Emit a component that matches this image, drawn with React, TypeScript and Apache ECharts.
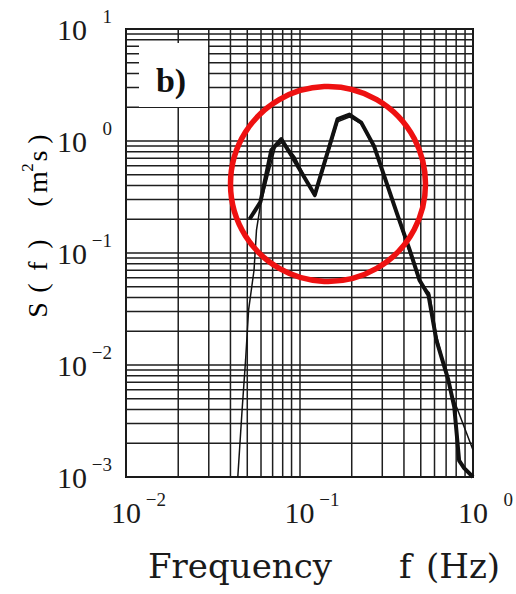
import { useEffect, useRef } from "react";
import * as echarts from "echarts";

// Spectrum S(f) in m^2 s against frequency f in Hz (log-log)
const thickCurve: [number, number][] = [
  [0.0515, 0.2],
  [0.0595, 0.285],
  [0.0688, 0.83],
  [0.0785, 1.04],
  [0.0895, 0.75],
  [0.1225, 0.33],
  [0.1657, 1.57],
  [0.194, 1.72],
  [0.227, 1.46],
  [0.269, 0.9],
  [0.364, 0.227],
  [0.432, 0.106],
  [0.492, 0.057],
  [0.554, 0.042],
  [0.615, 0.0167],
  [0.72, 0.0074],
  [0.78, 0.0042],
  [0.832, 0.0014],
  [0.889, 0.0012],
  [1.0, 0.001],
];

const thinCurve: [number, number][] = [
  [0.0441, 0.001],
  [0.0467, 0.004],
  [0.0489, 0.0111],
  [0.0509, 0.031],
  [0.0547, 0.0705],
  [0.0565, 0.16],
  [0.0595, 0.268],
  [0.0725, 0.88],
  [0.0805, 0.98],
  [0.0942, 0.72],
  [0.1225, 0.316],
  [0.1657, 1.48],
  [0.194, 1.64],
  [0.227, 1.42],
  [0.273, 0.83],
  [0.364, 0.218],
  [0.492, 0.055],
  [0.561, 0.044],
  [0.615, 0.0185],
  [0.75, 0.0056],
  [1.0, 0.00174],
];

// Log-paper minor lines: 2..9 within each decade
const minorMultipliers = [2, 3, 4, 5, 6, 7, 8, 9];
const xDecades = [0.01, 0.1];
const yDecades = [0.001, 0.01, 0.1, 1];

const xRange = [0.01, 1];
const yRange = [0.001, 10];

const exponentText = (v: number) => {
  const e = Math.round(Math.log10(v));
  return e < 0 ? "\u2212" + -e : String(e);
};

const tickRich = {
  b: {
    fontFamily: "Liberation Serif",
    fontSize: 30,
    lineHeight: 44,
    color: "#1a1a1a",
  },
  e: {
    fontFamily: "Liberation Serif",
    fontSize: 19,
    lineHeight: 18,
    verticalAlign: "top",
    align: "right",
    width: 25,
    color: "#1a1a1a",
  },
  sp: {
    fontSize: 19,
    width: 25,
    lineHeight: 18,
  },
};

const gridColor = "#1e1e1e";
const gridWidth = 1.5;

export default function App() {
  const ref = useRef<HTMLDivElement>(null);

  useEffect(() => {
    if (!ref.current) return;
    const chart = echarts.init(ref.current, undefined, { renderer: "svg" });

    // [x, y, kind]: kind 0 = vertical line at x, kind 1 = horizontal line at y
    const minorLines: [number, number, number][] = [
      ...xDecades.flatMap((d) =>
        minorMultipliers.map((k) => [k * d, 1, 0] as [number, number, number])
      ),
      ...yDecades.flatMap((d) =>
        minorMultipliers.map((k) => [0.1, k * d, 1] as [number, number, number])
      ),
    ];

    const cellStyle = {
      fontFamily: "Liberation Serif",
      fontSize: 28,
      lineHeight: 36,
      align: "center",
      color: "#1a1a1a",
    };

    chart.setOption({
      animation: false,
      backgroundColor: "#ffffff",
      grid: {
        left: 126,
        right: 39,
        top: 29,
        bottom: 117,
        show: true,
        borderColor: "#111",
        borderWidth: 2,
        backgroundColor: "transparent",
      },
      xAxis: {
        type: "log",
        logBase: 10,
        min: xRange[0],
        max: xRange[1],
        axisLine: { show: false },
        axisTick: { show: false },
        splitLine: { show: true, lineStyle: { color: gridColor, width: gridWidth } },
        axisLabel: {
          margin: 13,
          formatter: (v: number) => `{sp| }{b|10}{e|${exponentText(v)}}`,
          rich: tickRich,
          showMinLabel: true,
          showMaxLabel: true,
        },
      },
      yAxis: {
        type: "log",
        logBase: 10,
        min: yRange[0],
        max: yRange[1],
        axisLine: { show: false },
        axisTick: { show: false },
        splitLine: { show: true, lineStyle: { color: gridColor, width: gridWidth } },
        axisLabel: {
          margin: 14,
          formatter: (v: number) => `{b|10}{e|${exponentText(v)}}`,
          rich: tickRich,
          showMinLabel: true,
          showMaxLabel: true,
        },
      },
      series: [
        {
          name: "minor grid",
          type: "custom",
          data: minorLines,
          z: 1,
          silent: true,
          clip: true,
          encode: { x: 0, y: 1 },
          renderItem: (_params: any, api: any) => {
            const kind = api.value(2);
            let p1: number[];
            let p2: number[];
            if (kind === 0) {
              const x = api.value(0);
              p1 = api.coord([x, yRange[0]]);
              p2 = api.coord([x, yRange[1]]);
            } else {
              const y = api.value(1);
              p1 = api.coord([xRange[0], y]);
              p2 = api.coord([xRange[1], y]);
            }
            return {
              type: "line",
              shape: { x1: p1[0], y1: p1[1], x2: p2[0], y2: p2[1] },
              style: { stroke: gridColor, lineWidth: gridWidth },
            };
          },
        },
        {
          name: "thin",
          type: "line",
          data: thinCurve,
          z: 3,
          showSymbol: false,
          symbol: "none",
          lineStyle: { color: "#111", width: 1.5 },
        },
        {
          name: "thick",
          type: "line",
          data: thickCurve,
          z: 4,
          showSymbol: false,
          symbol: "none",
          lineStyle: { color: "#111", width: 4, join: "round" },
        },
      ],
      graphic: [
        {
          type: "rect",
          shape: { x: 139, y: 43, width: 69, height: 64 },
          style: { fill: "#ffffff" },
          z: 50,
        },
        {
          type: "text",
          x: 171,
          y: 80,
          z: 51,
          style: {
            text: "b)",
            font: "bold 34px 'Liberation Serif'",
            fill: "#111",
            align: "center",
            verticalAlign: "middle",
          },
        },
        {
          type: "circle",
          shape: { cx: 328, cy: 184, r: 97.5 },
          style: { fill: "none", stroke: "#ee1111", lineWidth: 5.5 },
          z: 60,
        },
        {
          type: "text",
          x: 148,
          y: 566,
          style: {
            text: "Frequency",
            font: "34px 'DejaVu Serif'",
            fill: "#1a1a1a",
            align: "left",
            verticalAlign: "middle",
          },
        },
        {
          type: "text",
          x: 399,
          y: 566,
          style: {
            text: "f",
            font: "34px 'DejaVu Serif'",
            fill: "#1a1a1a",
            align: "left",
            verticalAlign: "middle",
          },
        },
        {
          type: "text",
          x: 426,
          y: 566,
          style: {
            text: "(Hz)",
            font: "34px 'DejaVu Serif'",
            fill: "#1a1a1a",
            align: "left",
            verticalAlign: "middle",
          },
        },
        {
          type: "text",
          x: 37,
          y: 225,
          rotation: Math.PI / 2,
          style: {
            text: "{c1|S}{c1|(}{c1|f}{c1|)}{g| }{c2|(}{c3|m}{sup|2}{c4|s}{c2|)}",
            align: "center",
            verticalAlign: "middle",
            rich: {
              c1: { ...cellStyle, width: 22 },
              c2: { ...cellStyle, width: 20 },
              c3: { ...cellStyle, width: 20 },
              c4: { ...cellStyle, width: 14 },
              g: { ...cellStyle, width: 21 },
              sup: {
                fontFamily: "Liberation Serif",
                fontSize: 17,
                lineHeight: 16,
                verticalAlign: "top",
                align: "center",
                width: 9,
                color: "#1a1a1a",
              },
            },
          },
        },
      ],
    });

    return () => chart.dispose();
  }, []);

  return (
    <div
      ref={ref}
      style={{ position: "fixed", left: 0, top: 0, width: 516, height: 594 }}
    />
  );
}
